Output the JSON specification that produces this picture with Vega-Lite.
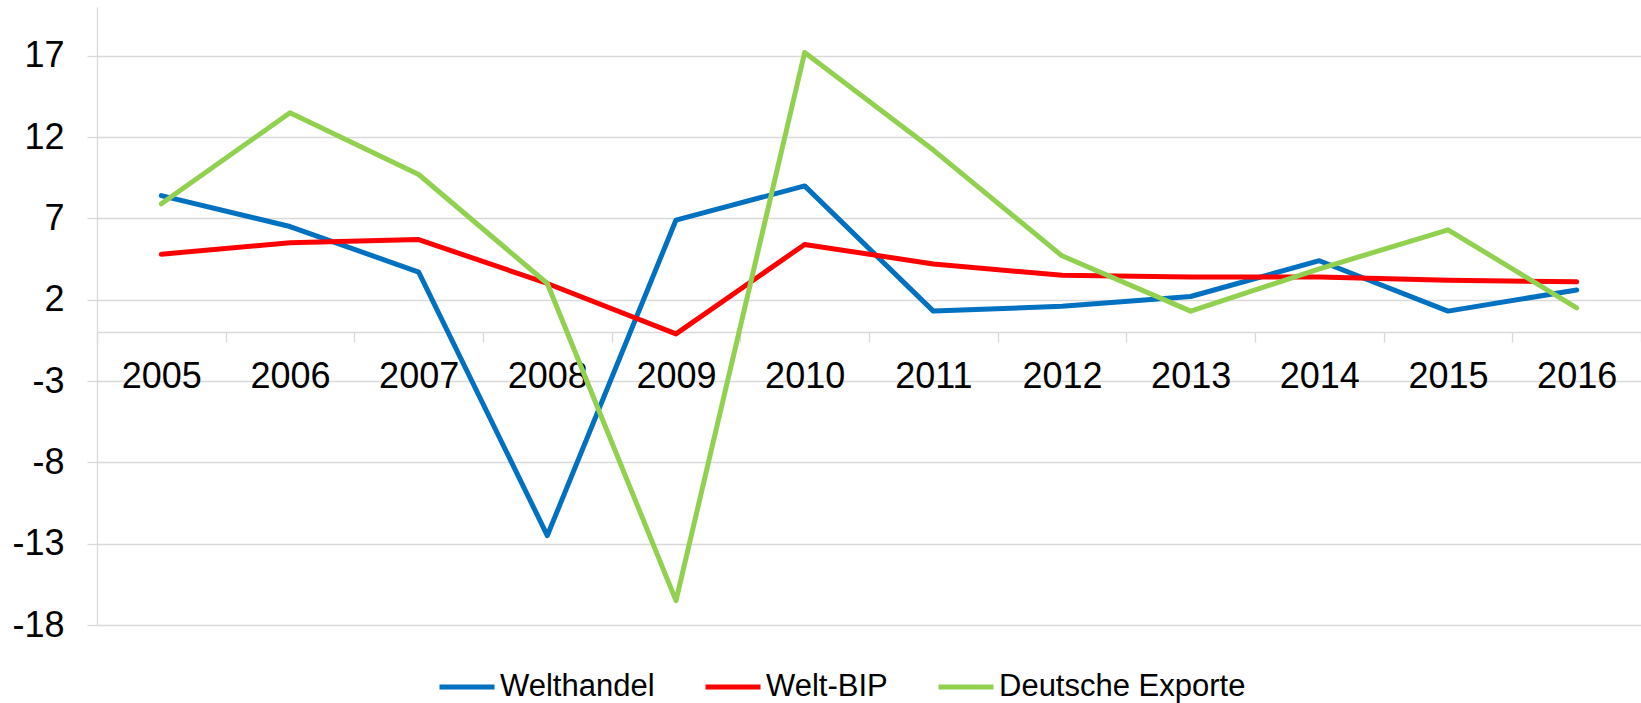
{
  "$schema": "https://vega.github.io/schema/vega-lite/v6.json",
  "width": 1544,
  "height": 618,
  "autosize": {"type": "none"},
  "padding": {"left": 97, "top": 7, "right": 0, "bottom": 78},
  "background": "white",
  "config": {
    "view": {"stroke": null},
    "font": "Liberation Sans"
  },
  "data": {
    "values": [
      {"year": "2005", "series": "Welthandel", "value": 8.4},
      {"year": "2006", "series": "Welthandel", "value": 6.5},
      {"year": "2007", "series": "Welthandel", "value": 3.7},
      {"year": "2008", "series": "Welthandel", "value": -12.5},
      {"year": "2009", "series": "Welthandel", "value": 6.9},
      {"year": "2010", "series": "Welthandel", "value": 9.0},
      {"year": "2011", "series": "Welthandel", "value": 1.3},
      {"year": "2012", "series": "Welthandel", "value": 1.6},
      {"year": "2013", "series": "Welthandel", "value": 2.2},
      {"year": "2014", "series": "Welthandel", "value": 4.4},
      {"year": "2015", "series": "Welthandel", "value": 1.3},
      {"year": "2016", "series": "Welthandel", "value": 2.6},
      {"year": "2005", "series": "Welt-BIP", "value": 4.8},
      {"year": "2006", "series": "Welt-BIP", "value": 5.5},
      {"year": "2007", "series": "Welt-BIP", "value": 5.7},
      {"year": "2008", "series": "Welt-BIP", "value": 3.0},
      {"year": "2009", "series": "Welt-BIP", "value": -0.1},
      {"year": "2010", "series": "Welt-BIP", "value": 5.4},
      {"year": "2011", "series": "Welt-BIP", "value": 4.2},
      {"year": "2012", "series": "Welt-BIP", "value": 3.5},
      {"year": "2013", "series": "Welt-BIP", "value": 3.4},
      {"year": "2014", "series": "Welt-BIP", "value": 3.4},
      {"year": "2015", "series": "Welt-BIP", "value": 3.2},
      {"year": "2016", "series": "Welt-BIP", "value": 3.1},
      {"year": "2005", "series": "Deutsche Exporte", "value": 7.9},
      {"year": "2006", "series": "Deutsche Exporte", "value": 13.5},
      {"year": "2007", "series": "Deutsche Exporte", "value": 9.7},
      {"year": "2008", "series": "Deutsche Exporte", "value": 3.0},
      {"year": "2009", "series": "Deutsche Exporte", "value": -16.5},
      {"year": "2010", "series": "Deutsche Exporte", "value": 17.2},
      {"year": "2011", "series": "Deutsche Exporte", "value": 11.2},
      {"year": "2012", "series": "Deutsche Exporte", "value": 4.7},
      {"year": "2013", "series": "Deutsche Exporte", "value": 1.3},
      {"year": "2014", "series": "Deutsche Exporte", "value": 3.9},
      {"year": "2015", "series": "Deutsche Exporte", "value": 6.3},
      {"year": "2016", "series": "Deutsche Exporte", "value": 1.5}
    ]
  },
  "mark": {"type": "line", "strokeWidth": 5, "strokeJoin": "round", "strokeCap": "round"},
  "encoding": {
    "x": {
      "field": "year",
      "type": "ordinal",
      "bandPosition": 0.5,
      "scale": {"type": "band", "paddingInner": 0, "paddingOuter": 0},
      "axis": {
        "title": null,
        "offset": -293,
        "labelAngle": 0,
        "labelFontSize": 36,
        "labelColor": "#000000",
        "labelPadding": 17,
        "tickBand": "extent",
        "tickSize": 10,
        "tickColor": "#d9d9d9",
        "tickWidth": 1.3,
        "domainColor": "#d9d9d9",
        "domainWidth": 1.3,
        "grid": false,
        "zindex": 0
      }
    },
    "y": {
      "field": "value",
      "type": "quantitative",
      "scale": {"domain": [-18, 20], "nice": false, "zero": false},
      "axis": {
        "title": null,
        "values": [-18, -13, -8, -3, 2, 7, 12, 17],
        "labelExpr": "datum.value + ''",
        "labelFontSize": 36,
        "labelColor": "#000000",
        "labelPadding": 23,
        "tickSize": 10,
        "tickColor": "#d9d9d9",
        "tickWidth": 1.3,
        "domainColor": "#d9d9d9",
        "domainWidth": 1.3,
        "grid": true,
        "gridColor": "#d9d9d9",
        "gridWidth": 1.3,
        "zindex": 0
      }
    },
    "color": {
      "field": "series",
      "type": "nominal",
      "scale": {
        "domain": ["Welthandel", "Welt-BIP", "Deutsche Exporte"],
        "range": ["#0070C0", "#FF0000", "#92D050"]
      },
      "legend": {
        "title": null,
        "orient": "none",
        "direction": "horizontal",
        "legendX": 340,
        "legendY": 650,
        "padding": 0,
        "symbolType": "stroke",
        "symbolSize": 3025,
        "symbolStrokeWidth": 5,
        "labelFontSize": 31,
        "labelColor": "#000000",
        "labelOffset": 3,
        "labelLimit": 0,
        "columnPadding": 40
      }
    }
  }
}
